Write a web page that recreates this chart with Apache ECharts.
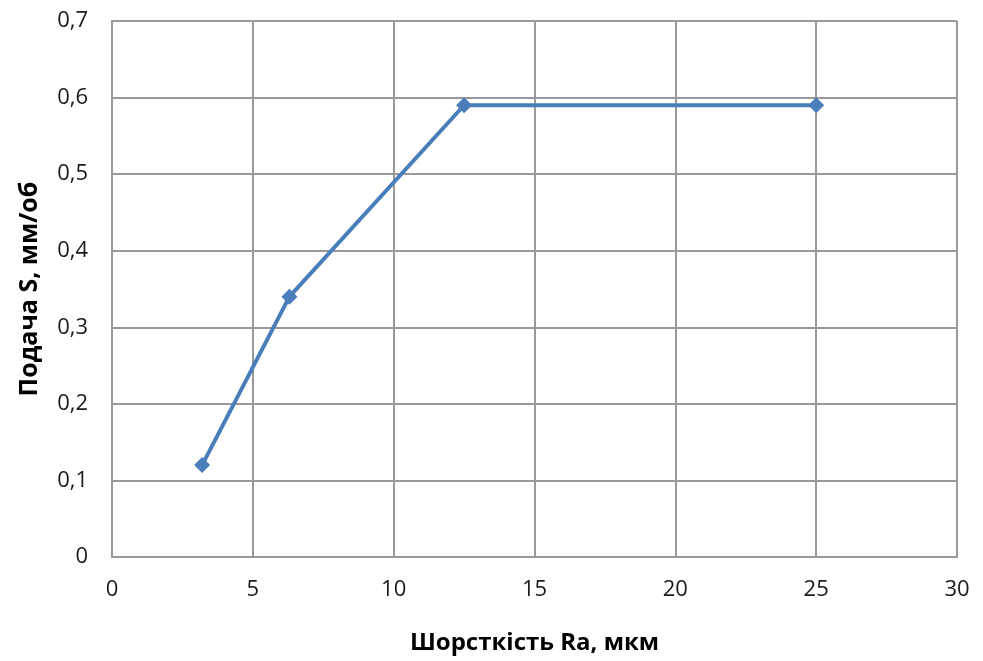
<!DOCTYPE html>
<html>
<head>
<meta charset="utf-8">
<script src="https://cdn.jsdelivr.net/npm/echarts@6/dist/echarts.min.js"></script>
<style>
  html, body { margin: 0; padding: 0; background: #fff; }
  #chart { width: 983px; height: 661px; }
</style>
</head>
<body>
<div id="chart"></div>
<script>
'use strict';

// шорсткість Ra, мкм
var raData = [3.2, 6.3, 12.5, 25];
// подача S, мм/об
var sData = [0.12, 0.34, 0.59, 0.59];

var points = [];
for (var i = 0; i < raData.length; i++) {
    points.push([raData[i], sData[i]]);
}

var chart = echarts.init(document.getElementById('chart'));

var option = {
    animation: false,
    textStyle: { fontFamily: 'Open Sans' },
    grid: { left: 112, right: 26, top: 21, bottom: 104 },
    xAxis: {
        type: 'value',
        min: 0, max: 30, interval: 5,
        name: 'Шорсткість Ra, мкм',
        nameLocation: 'middle',
        nameGap: 74,
        nameTextStyle: { fontSize: 24, fontWeight: 'bold', color: '#000' },
        axisLine: { show: true, lineStyle: { color: '#999', width: 2 } },
        axisTick: { show: false },
        axisLabel: { fontSize: 22, color: '#1a1a1a', margin: 22 },
        splitLine: { lineStyle: { color: '#999', width: 2 } }
    },
    yAxis: {
        type: 'value',
        min: 0, max: 0.7, interval: 0.1,
        name: 'Подача S, мм/об',
        nameLocation: 'middle',
        nameGap: 70,
        nameTextStyle: { fontSize: 25, fontWeight: 'bold', color: '#000' },
        axisLine: { show: true, lineStyle: { color: '#999', width: 2 } },
        axisTick: { show: false },
        axisLabel: {
            fontSize: 22, color: '#1a1a1a', margin: 24,
            formatter: function (v) { return String(Math.round(v * 10) / 10).replace('.', ','); }
        },
        splitLine: { lineStyle: { color: '#999', width: 2 } }
    },
    series: [{
        type: 'line',
        data: points,
        symbol: 'diamond',
        symbolSize: 16,
        lineStyle: { color: '#4a7ebb', width: 4 },
        itemStyle: { color: '#4a7ebb' }
    }]
};

chart.setOption(option);
</script>
</body>
</html>
